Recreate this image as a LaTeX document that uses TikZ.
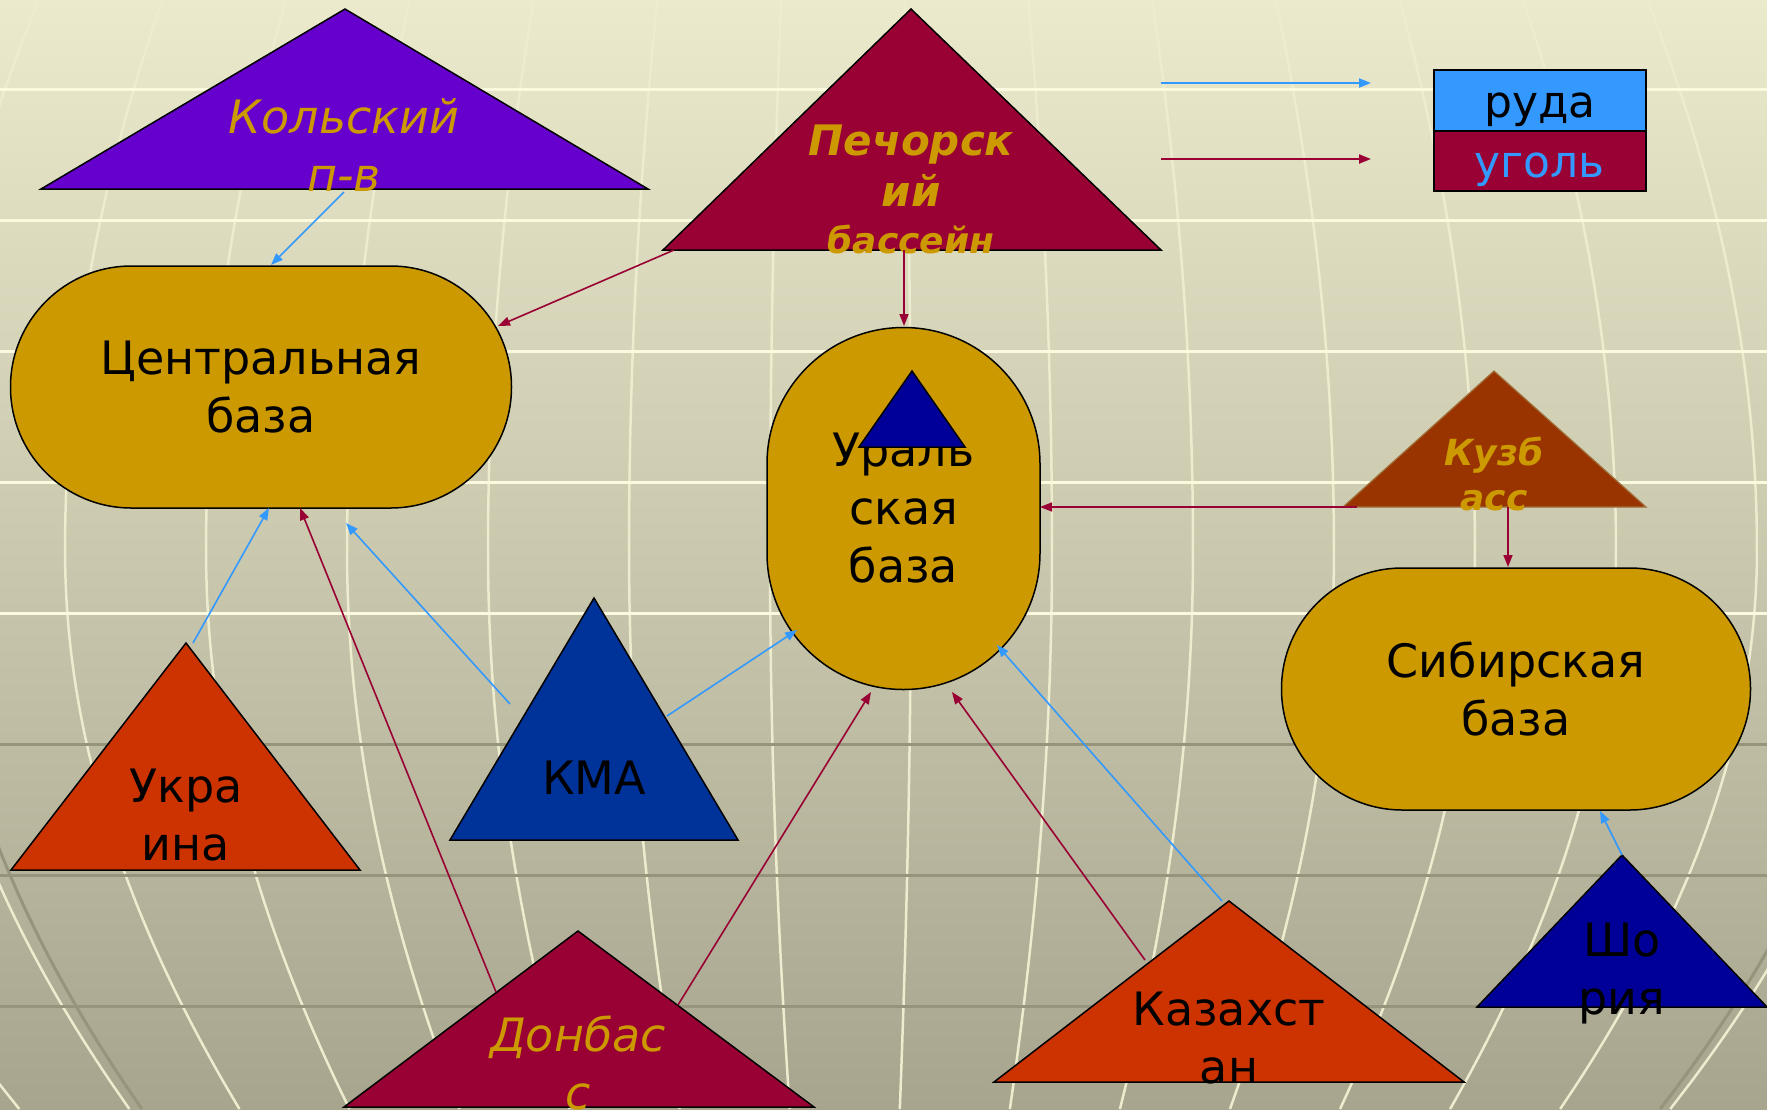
\documentclass[tikz,border=0pt]{standalone}
\usepackage{fontspec}
\setmainfont{DejaVu Sans}[ItalicFont={DejaVu Sans Oblique},BoldFont={DejaVu Sans Bold},BoldItalicFont={DejaVu Sans Bold Oblique}]
\usetikzlibrary{arrows.meta}
\definecolor{bgtop}{HTML}{ECEACC}
\definecolor{bgbot}{HTML}{A7A58E}
\definecolor{lightline}{HTML}{FBF9DE}
\definecolor{mercol}{HTML}{EEECCF}
\definecolor{darkline}{HTML}{96947B}
\definecolor{gold}{HTML}{CC9900}
\definecolor{kolacol}{HTML}{6600CC}
\definecolor{crim}{HTML}{990033}
\definecolor{kmacol}{HTML}{003399}
\definecolor{navycol}{HTML}{000099}
\definecolor{rust}{HTML}{CC3300}
\definecolor{kuzcol}{HTML}{993300}
\definecolor{kuzedge}{HTML}{A0703A}
\definecolor{oreblue}{HTML}{3399FF}
\tikzset{
  tri/.style={draw=black, line width=1.5pt, line join=miter},
  basebox/.style={draw=black, line width=1.5pt, fill=gold, inner sep=0pt, align=center, font=\fontsize{46}{58}\selectfont},
  lbl/.style={align=center, inner sep=0pt, font=\fontsize{46}{58}\selectfont},
  goldit/.style={align=center, inner sep=0pt, text=gold, font=\fontsize{46}{58}\selectfont\itshape},
  goldbi/.style={align=center, inner sep=0pt, text=gold},
  orearrow/.style={draw=oreblue, line width=1.6pt, -{Triangle[length=12pt,width=9pt]}},
  coalarrow/.style={draw=crim, line width=1.6pt, -{Triangle[length=12pt,width=9pt]}},
  legbox/.style={draw=black, line width=1.5pt, minimum width=212pt, inner sep=0pt, anchor=north west, text height=34pt, text depth=0pt, font=\fontsize{44}{52}\selectfont},
  hlight/.style={draw=lightline, line width=3pt},
  hdark/.style={draw=darkline, line width=3pt},
  merline/.style={draw=mercol, line width=2.5pt},
  limbline/.style={draw=darkline, line width=3pt}
}
\begin{document}
\begin{tikzpicture}[x=1pt,y=-1pt]
\useasboundingbox (0,0) rectangle (1767,1109);
% background
\shade[top color=bgtop, bottom color=bgbot] (0,0) rectangle (1767,1109);
\begin{scope}
\clip (0,0) rectangle (1767,1109);
\foreach \dd in {-1077,-936,-795,-654,-513,-372,-231,-90,51,192,333,474,615,756,897,1038}{
  \draw[merline] plot[domain=0:1109, samples=40, smooth, variable=\t] ({860+\dd*cos(deg(abs(\t-550)/((\t<550) ? 1100 : 828)))}, \t);
}
\foreach \dd in {-920,1025}{
  \draw[limbline] plot[domain=550:1109, samples=30, smooth, variable=\t] ({860+\dd*cos(deg((\t-550)/828))}, \t);
}
\foreach \yy in {89,220,351,482,613}{ \draw[hlight] (0,\yy) -- (1767,\yy); }
\foreach \yy in {744,875,1006}{ \draw[hdark] (0,\yy) -- (1767,\yy); }
\end{scope}

% sources (triangles)
\filldraw[tri, fill=kolacol] (345,9) -- (41,189) -- (648,189) -- cycle;
\node[goldit] (kola) at (344,145) {Кольский\\п-в};

\filldraw[tri, fill=crim] (911,9) -- (663,250) -- (1161,250) -- cycle;
\node[goldbi, font=\fontsize{42}{51}\selectfont\bfseries\itshape] (pech) at (911,189.5) {Печорск\\ий\\[-4pt]{\fontsize{36}{47}\selectfont бассейн}};

\filldraw[draw=kuzedge, line width=1.2pt, fill=kuzcol] (1494,371) -- (1343,507) -- (1646,507) -- cycle;
\node[goldbi, font=\fontsize{36}{45}\selectfont\bfseries\itshape] (kuz) at (1494,474) {Кузб\\асс};

\filldraw[tri, fill=rust] (186,643) -- (11,870) -- (360,870) -- cycle;
\node[lbl] (ukr) at (186,815) {Укра\\ина};

\filldraw[tri, fill=kmacol] (594,598) -- (450,840) -- (738,840) -- cycle;
\node[lbl] (kma) at (594,778) {КМА};

\filldraw[tri, fill=crim] (578,931) -- (344,1107) -- (814,1107) -- cycle;
\node[goldit] (don) at (578,1063) {Донбас\\с};

\filldraw[tri, fill=rust] (1229,901) -- (994,1082) -- (1464,1082) -- cycle;
\node[lbl] (kaz) at (1229,1038) {Казахст\\ан};

\filldraw[tri, fill=navycol] (1622,855) -- (1477,1007) -- (1767,1007) -- cycle;
\node[lbl] (sho) at (1622,974) {Шо\\рия};

% bases
\node[basebox, minimum width=501pt, minimum height=242pt, rounded corners=120.9pt] (cb) at (261,387) {Центральная\\база};
\node[basebox, minimum width=273pt, minimum height=362pt, rounded corners=136.4pt] (ub) at (903.5,508.5) {Ураль\\ская\\база};
\node[basebox, minimum width=469pt, minimum height=242pt, rounded corners=120.9pt] (sb) at (1516,689) {Сибирская\\база};
\filldraw[tri, fill=navycol] (912,371) -- (859,447) -- (965,447) -- cycle;

% legend
\node[legbox, fill=oreblue, minimum height=61pt] (ruda) at (1433,69) {руда};
\node[legbox, fill=crim, text=oreblue, minimum height=60pt] (ugol) at (1433,130) {уголь};
\coordinate (oreA) at (1161,83);  \coordinate (oreB) at (1371,83);
\coordinate (coalA) at (1161,159); \coordinate (coalB) at (1371,159);
\draw[orearrow, line width=2pt] (oreA) -- (oreB);
\draw[coalarrow, line width=2pt] (coalA) -- (coalB);

% connector end points
\coordinate (kolaOut) at (344,192);   \coordinate (cbKola) at (271,265);
\coordinate (pechOutL) at (674,250);  \coordinate (cbPech) at (498,326);
\coordinate (pechOutB) at (904,250);  \coordinate (ubPech) at (904,326);
\coordinate (kuzOutL) at (1357,507);  \coordinate (ubKuz) at (1040,507);
\coordinate (kuzOutB) at (1508,507);  \coordinate (sbKuz) at (1508,567);
\coordinate (ukrOut) at (193,643);    \coordinate (cbUkr) at (269,508);
\coordinate (donOutL) at (496,992);   \coordinate (cbDon) at (300,508);
\coordinate (kmaOutL) at (510,704);   \coordinate (cbKma) at (346,523);
\coordinate (kmaOutR) at (667,716);   \coordinate (ubKma) at (797,630);
\coordinate (donOutR) at (678,1005);  \coordinate (ubDon) at (871,692);
\coordinate (kazOutL) at (1145,960);  \coordinate (ubKazC) at (952,692);
\coordinate (kazOutT) at (1222,901);  \coordinate (ubKazO) at (997,645);
\coordinate (shoOut) at (1622,855);   \coordinate (sbSho) at (1600,811);

% connectors
\draw[orearrow] (kolaOut) -- (cbKola);
\draw[coalarrow] (pechOutL) -- (cbPech);
\draw[coalarrow] (pechOutB) -- (ubPech);
\draw[coalarrow] (kuzOutL) -- (ubKuz);
\draw[coalarrow] (kuzOutB) -- (sbKuz);
\draw[orearrow] (ukrOut) -- (cbUkr);
\draw[coalarrow] (donOutL) -- (cbDon);
\draw[orearrow] (kmaOutL) -- (cbKma);
\draw[orearrow] (kmaOutR) -- (ubKma);
\draw[coalarrow] (donOutR) -- (ubDon);
\draw[coalarrow] (kazOutL) -- (ubKazC);
\draw[orearrow] (kazOutT) -- (ubKazO);
\draw[orearrow] (shoOut) -- (sbSho);
\end{tikzpicture}
\end{document}
